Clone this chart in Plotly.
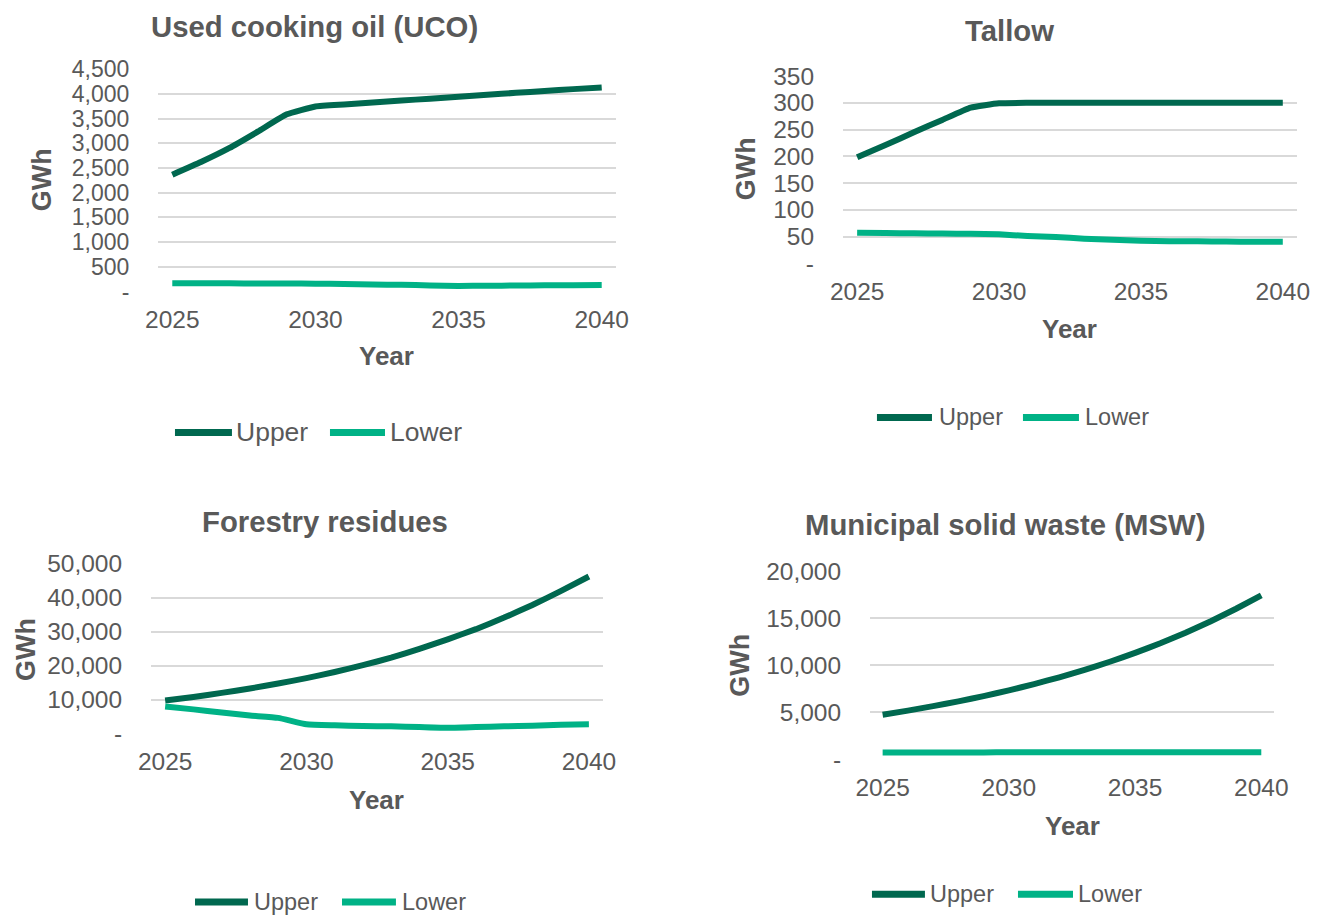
import plotly.graph_objects as go

W, H = 1320, 920

years = list(range(2025, 2041))

# Used cooking oil (GWh)
uco_upper = [2365, 2620, 2905, 3240, 3585, 3745, 3785, 3825, 3865, 3900, 3940, 3980, 4020, 4055, 4095, 4130]
uco_lower = [168, 167, 166, 165, 164, 160, 152, 144, 136, 125, 115, 118, 122, 126, 130, 133]

# Tallow (GWh)
tallow_upper = [198, 221, 245, 268, 291, 299, 300, 300, 300, 300, 300, 300, 300, 300, 300, 300]
tallow_lower = [57, 56.5, 56, 55.5, 55, 54, 51, 49, 46, 44, 42, 41, 41, 40.5, 40, 40]

# Forestry residues (GWh)
forest_upper = [9700, 10750, 11950, 13250, 14700, 16300, 18100, 20100, 22300, 24900, 27700, 30700, 34100, 37800, 41900, 46200]
forest_lower = [7950, 7100, 6200, 5300, 4600, 2700, 2400, 2200, 2100, 1900, 1700, 1900, 2100, 2300, 2600, 2700]

# Municipal solid waste (GWh)
msw_upper = [4760, 5200, 5670, 6180, 6740, 7350, 8020, 8740, 9530, 10390, 11330, 12350, 13470, 14690, 16020, 17450]
msw_lower = [750, 752, 755, 758, 760, 765, 768, 770, 770, 770, 770, 770, 770, 770, 770, 770]

series_names = ["Upper", "Lower"]
series_colors = ["#00684F", "#00B286"]

x_ticks = [2025, 2030, 2035, 2040]

uco_ticks = [0, 500, 1000, 1500, 2000, 2500, 3000, 3500, 4000, 4500]
tallow_ticks = [0, 50, 100, 150, 200, 250, 300, 350]
forest_ticks = [0, 10000, 20000, 30000, 40000, 50000]
msw_ticks = [0, 5000, 10000, 15000, 20000]

TEXT = "#595959"
FONT = "Liberation Sans, Arial, sans-serif"


def fx(px):
    return px / W


def fy(py):
    return 1 - py / H


def tick_text(vals):
    return ["-" if v == 0 else f"{v:,}" for v in vals]


# panel layout in figure pixels: plot box (left, right, top, bottom), title,
# axis-title centres and the legend row (key start, key end, label start)
panels = [
    dict(title="Used cooking oil (UCO)", upper=uco_upper, lower=uco_lower, ticks=uco_ticks, ytick_size=23,
         box=(146.3, 615.0, 57.8, 287.0), title_xy=(306, 14), year_xy=(380.6, 353.8), gwh_xy=(27.6, 171.2),
         legend_y=432.1, legend_keys=[(163.7, 222.0, 224.1), (322.3, 378.6, 381.7)], legend_size=26.5),
    dict(title="Tallow", upper=tallow_upper, lower=tallow_lower, ticks=tallow_ticks, ytick_size=24.5,
         box=(847.2, 1311.8, 65.0, 257.8), title_xy=(1018.1, 17.8), year_xy=(1079.5, 325.9), gwh_xy=(748.0, 160.9),
         legend_y=416.7, legend_keys=[(882.0, 938.3, 943.4), (1031.4, 1088.7, 1092.8)], legend_size=23.5),
    dict(title="Forestry residues", upper=forest_upper, lower=forest_lower, ticks=forest_ticks, ytick_size=24.5,
         box=(139.2, 601.7, 567.2, 742.3), title_xy=(317.2, 523.9), year_xy=(370.4, 810.6), gwh_xy=(10.5, 655.9),
         legend_y=916.0, legend_keys=[(184.2, 238.4, 242.5), (334.6, 389.8, 393.9)], legend_size=23.5),
    dict(title="Municipal solid waste (MSW)", upper=msw_upper, lower=msw_lower, ticks=msw_ticks, ytick_size=24.5,
         box=(874.9, 1288.2, 575.2, 769.1), title_xy=(1013.0, 527.0), year_xy=(1082.6, 837.5), gwh_xy=(741.8, 671.4),
         legend_y=908.0, legend_keys=[(876.9, 931.1, 934.2), (1026.3, 1082.6, 1085.7)], legend_size=23.5),
]

fig = go.Figure()
annotations = []
shapes = []
layout_axes = {}

for i, p in enumerate(panels, start=1):
    suffix = "" if i == 1 else str(i)
    x0, x1, y0, y1 = p["box"]
    for name, color, vals in zip(series_names, series_colors, [p["upper"], p["lower"]]):
        fig.add_trace(go.Scatter(
            x=years, y=vals, mode="lines", name=name,
            line=dict(color=color, width=6, shape="spline", smoothing=0.4),
            xaxis="x" + suffix, yaxis="y" + suffix, showlegend=False,
        ))

    layout_axes["xaxis" + suffix] = dict(
        domain=[fx(x0), fx(x1)], anchor="y" + suffix,
        range=[2024.5, 2040.5], tickvals=x_ticks, ticktext=[str(t) for t in x_ticks],
        showgrid=False, zeroline=False, showline=False,
        ticks="outside", ticklen=6.5, tickcolor="rgba(0,0,0,0)",
        tickfont=dict(family=FONT, size=24.5, color=TEXT), fixedrange=True,
    )
    layout_axes["yaxis" + suffix] = dict(
        domain=[fy(y1), fy(y0)], anchor="x" + suffix,
        range=[0, p["ticks"][-1]], tickvals=p["ticks"], ticktext=tick_text(p["ticks"]),
        showgrid=True, gridcolor="#D9D9D9", gridwidth=2, zeroline=False, showline=False,
        ticks="outside", ticklen=23, tickcolor="rgba(0,0,0,0)",
        tickfont=dict(family=FONT, size=p["ytick_size"], color=TEXT), fixedrange=True,
    )

    tx, ty = p["title_xy"]
    annotations.append(dict(text=f"<b>{p['title']}</b>", x=fx(tx), y=fy(ty), xref="paper", yref="paper",
                            xanchor="center", yanchor="middle", showarrow=False,
                            font=dict(family=FONT, size=29.3, color=TEXT)))
    yx, yy = p["year_xy"]
    annotations.append(dict(text="<b>Year</b>", x=fx(yx), y=fy(yy), xref="paper", yref="paper",
                            xanchor="center", yanchor="middle", showarrow=False,
                            font=dict(family=FONT, size=26, color=TEXT)))
    gx, gy = p["gwh_xy"]
    annotations.append(dict(text="<b>GWh</b>", x=fx(gx), y=fy(gy), xref="paper", yref="paper",
                            xanchor="center", yanchor="middle", showarrow=False, textangle=-90,
                            font=dict(family=FONT, size=27, color=TEXT)))

    # legend row: a line key followed by the series name
    ly = p["legend_y"]
    for (k0, k1, t0), name, color in zip(p["legend_keys"], series_names, series_colors):
        shapes.append(dict(type="line", xref="paper", yref="paper",
                           x0=fx(k0), x1=fx(k1), y0=fy(ly), y1=fy(ly),
                           line=dict(color=color, width=7)))
        annotations.append(dict(text=name, x=fx(t0), y=fy(ly), xref="paper", yref="paper",
                                xanchor="left", yanchor="middle", showarrow=False,
                                font=dict(family=FONT, size=p["legend_size"], color=TEXT)))

fig.update_layout(
    width=W, height=H, margin=dict(l=0, r=0, t=0, b=0),
    paper_bgcolor="white", plot_bgcolor="white",
    annotations=annotations, shapes=shapes, showlegend=False,
    **layout_axes,
)

fig.write_html("out.html", config={"displayModeBar": False})
